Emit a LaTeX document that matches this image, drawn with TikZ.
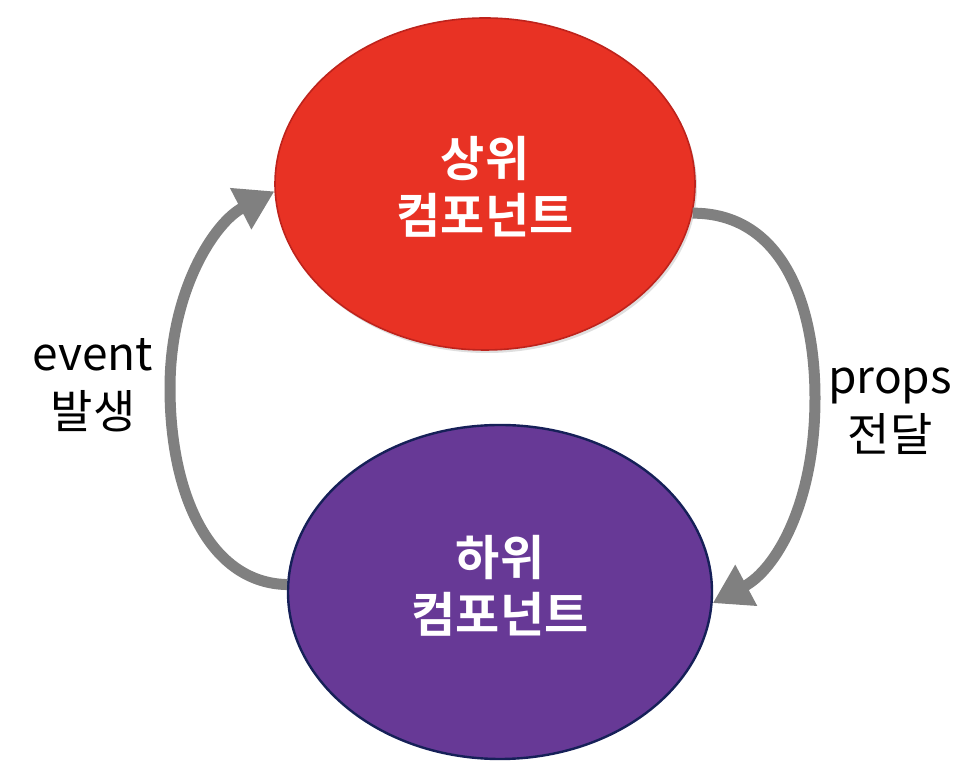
\documentclass[tikz,border=0pt]{standalone}
\usepackage{fontspec}
\usetikzlibrary{shapes.geometric,arrows.meta}
\newfontfamily\krfont{Noto Sans CJK KR}
\newfontfamily\krbold{Noto Sans CJK KR Bold}
\definecolor{upfill}{RGB}{232,50,36}
\definecolor{upline}{RGB}{190,35,28}
\definecolor{downfill}{RGB}{103,57,150}
\definecolor{downline}{RGB}{22,32,88}
\definecolor{flow}{RGB}{128,128,128}
\tikzset{
  comp/.style={ellipse, inner sep=0pt},
  comptext/.style={text=white, align=center, font=\krbold\fontsize{48}{57}\selectfont},
  flowarrow/.style={draw=flow, line width=11pt, -{Triangle[length=38pt,width=44pt]}},
  flowlabel/.style={align=center, text=black, font=\krfont\fontsize{46}{58}\selectfont},
}
\begin{document}
\begin{tikzpicture}[x=1pt,y=1pt]
\useasboundingbox (0,0) rectangle (974,770);
% parent component, with a soft shadow underneath
\node[comp, fill=black!25, minimum width=420pt, minimum height=332pt, opacity=0.5] (upshadow) at (487,583) {};
\node[comp, draw=upline, line width=1.6pt, fill=upfill, minimum width=420pt, minimum height=332pt] (up) at (485,586) {};
\node[comptext] (uptxt) at (485,583) {상위\\컴포넌트};
% child component
\node[comp, draw=downline, line width=2.4pt, fill=downfill, minimum width=424pt, minimum height=334pt] (down) at (500,178) {};
\node[comptext] (downtxt) at (500,184) {하위\\컴포넌트};
% props flow downward on the right
\draw[flowarrow] (up.-8) .. controls (780,557) and (815,470) .. (815,372)
  .. controls (815,265) and (775,200) .. (down.-3);
% events flow upward on the left
\draw[flowarrow] (down.178) .. controls (210,187) and (170,275) .. (170,382)
  .. controls (170,480) and (215,548) .. (up.-178.5);
% labels
\node[flowlabel] (evt) at (93,385) {event\\발생};
\node[flowlabel] (prp) at (890,359) {props\\전달};
\end{tikzpicture}
\end{document}
